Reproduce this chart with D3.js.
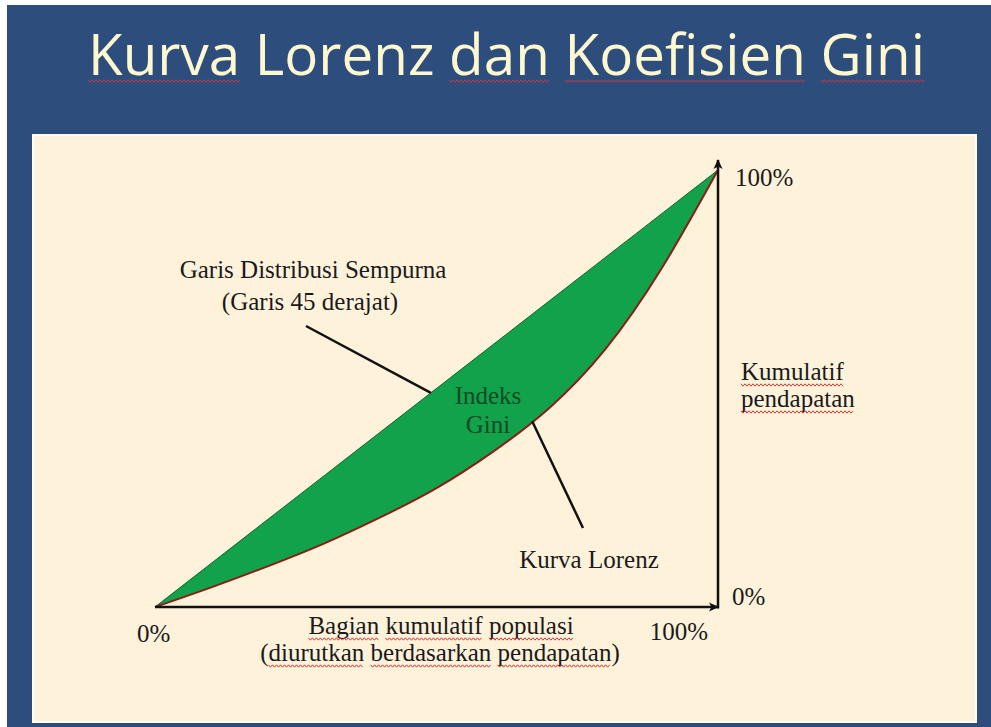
<!DOCTYPE html>
<html>
<head>
<meta charset="utf-8">
<script src="https://cdn.jsdelivr.net/npm/d3@7"></script>
<style>
  html, body { margin: 0; padding: 0; background: #ffffff; }
  svg { display: block; }
</style>
</head>
<body>
<div id="chart"></div>
<script>
// cumulative share of population vs cumulative share of income
const popShare    = [0, 0.1, 0.2, 0.3, 0.4, 0.5, 0.6, 0.7, 0.8, 0.9, 1];
const incomeShare = [0, 0.045, 0.093, 0.145, 0.205, 0.272, 0.355, 0.455, 0.59, 0.775, 1];
const equalityLine = [0, 1];

const xTickLabels = ['0%', '100%'];
const yTickLabels = ['0%', '100%'];

const title = 'Kurva Lorenz dan Koefisien Gini';
const titleMarked = ['Kurva', 'dan', 'Koefisien', 'Gini'];
const xAxisTitle = ['Bagian kumulatif populasi', '(diurutkan berdasarkan pendapatan)'];
const yAxisTitle = ['Kumulatif', 'pendapatan'];
const equalityNote = ['Garis Distribusi Sempurna', '(Garis 45 derajat)'];
const giniNote = ['Indeks', 'Gini'];
const lorenzNote = 'Kurva Lorenz';

const W = 991, H = 727;
const serif = '"Liberation Serif", "Times New Roman", serif';

let svg = d3.select('#chart').append('svg')
            .attr('width', W)
            .attr('height', H);

// slide background
svg.append('rect').attr('x', 7).attr('y', 5).attr('width', W - 7).attr('height', H - 5)
   .attr('fill', '#2d4d7c');
svg.append('rect').attr('x', 33).attr('y', 135).attr('width', 943).attr('height', 587)
   .attr('fill', '#fef2da').attr('stroke', '#fffdf4').attr('stroke-width', 2);

let x = d3.scaleLinear().domain([0, 1]).range([155, 718]);
let y = d3.scaleLinear().domain([0, 1]).range([607, 170]);

let lorenz = popShare.map((p, i) => ({ p: p, v: incomeShare[i] }));

// red spell-check squiggle under a word
function squiggle(x0, x1, yy) {
    let pts = [];
    let k = 0;
    for (let xx = x0; xx <= x1; xx += 2) {
        pts.push([xx, yy + (k % 2 === 0 ? -1.2 : 1.2)]);
        k++;
    }
    svg.append('path')
       .attr('d', d3.line()(pts))
       .attr('fill', 'none')
       .attr('stroke', '#d0383a')
       .attr('stroke-width', 1);
}

function markWords(textSel, words, yy) {
    let node = textSel.node();
    let str = node.textContent;
    let from = 0;
    words.forEach(w => {
        let i = str.indexOf(w, from);
        if (i < 0) return;
        let x0 = node.getStartPositionOfChar(i).x;
        let x1 = node.getEndPositionOfChar(i + w.length - 1).x;
        squiggle(x0, x1, yy);
        from = i + w.length;
    });
}

// title
let titleText = svg.append('text')
   .attr('x', 88).attr('y', 75)
   .attr('textLength', 837)
   .attr('lengthAdjust', 'spacingAndGlyphs')
   .attr('font-family', '"Open Sans", sans-serif')
   .attr('font-size', 56)
   .attr('fill', '#fdf8cf')
   .text(title);
markWords(titleText, titleMarked, 81);

// area between equality line and Lorenz curve
let area = d3.area()
    .x(d => x(d.p))
    .y0(d => y(d.v))
    .y1(d => y(d.p))
    .curve(d3.curveNatural);

svg.append('path')
   .datum(lorenz)
   .attr('d', area)
   .attr('fill', '#11a24b');

svg.append('path')
   .datum(equalityLine)
   .attr('d', d3.line().x(d => x(d)).y(d => y(d)))
   .attr('stroke', '#0b6a31')
   .attr('stroke-width', 1);

svg.append('path')
   .datum(lorenz)
   .attr('d', d3.line().x(d => x(d.p)).y(d => y(d.v)).curve(d3.curveNatural))
   .attr('fill', 'none')
   .attr('stroke', '#8a1d14')
   .attr('stroke-width', 2);

// axes with arrow heads
let defs = svg.append('defs');
defs.append('marker')
    .attr('id', 'arrow')
    .attr('viewBox', '0 -5 10 10')
    .attr('refX', 9).attr('refY', 0)
    .attr('markerWidth', 10).attr('markerHeight', 10)
    .attr('markerUnits', 'userSpaceOnUse')
    .attr('orient', 'auto')
    .append('path')
    .attr('d', 'M0,-4.5L10,0L0,4.5L2.5,0Z')
    .attr('fill', '#111');

svg.append('line')
   .attr('x1', x(0)).attr('y1', y(0))
   .attr('x2', x(1)).attr('y2', y(0))
   .attr('stroke', '#111').attr('stroke-width', 2.5)
   .attr('marker-end', 'url(#arrow)');

svg.append('line')
   .attr('x1', x(1)).attr('y1', y(0) + 1.5)
   .attr('x2', x(1)).attr('y2', y(1) - 10)
   .attr('stroke', '#111').attr('stroke-width', 2.5)
   .attr('marker-end', 'url(#arrow)');

function label(txt, xx, yy, anchor, color) {
    return svg.append('text')
        .attr('x', xx).attr('y', yy)
        .attr('text-anchor', anchor || 'start')
        .attr('font-family', serif)
        .attr('font-size', 25)
        .attr('fill', color || '#1a1a1a')
        .text(txt);
}

// tick labels
label(xTickLabels[0], x(0) - 18, 642);
label(xTickLabels[1], x(1) - 10, 640, 'end');
label(yTickLabels[0], x(1) + 14, y(0) - 2);
label(yTickLabels[1], x(1) + 17, 186);

// axis titles
let xt1 = label(xAxisTitle[0], 441, 634, 'middle');
let xt2 = label(xAxisTitle[1], 440, 661, 'middle');
markWords(xt1, xAxisTitle[0].split(' '), 639);
markWords(xt2, ['diurutkan', 'berdasarkan', 'pendapatan'], 666);

let yt1 = label(yAxisTitle[0], x(1) + 23, 380);
let yt2 = label(yAxisTitle[1], x(1) + 23, 407);
markWords(yt1, [yAxisTitle[0]], 385);
markWords(yt2, [yAxisTitle[1]], 412);

// annotations
label(equalityNote[0], 313, 278, 'middle');
label(equalityNote[1], 310, 310, 'middle');
svg.append('line')
   .attr('x1', 306).attr('y1', 326)
   .attr('x2', x(0.49)).attr('y2', y(0.49))
   .attr('stroke', '#111').attr('stroke-width', 2.5);

label(giniNote[0], 488, 404, 'middle', '#0d4a22');
label(giniNote[1], 488, 433, 'middle', '#0d4a22');

let leaderP = 0.67;
let leaderV = d3.scaleLinear().domain(popShare).range(incomeShare)(leaderP);
svg.append('line')
   .attr('x1', x(leaderP)).attr('y1', y(leaderV))
   .attr('x2', 583).attr('y2', 528)
   .attr('stroke', '#111').attr('stroke-width', 2.5);
label(lorenzNote, 589, 568, 'middle');
</script>
</body>
</html>
